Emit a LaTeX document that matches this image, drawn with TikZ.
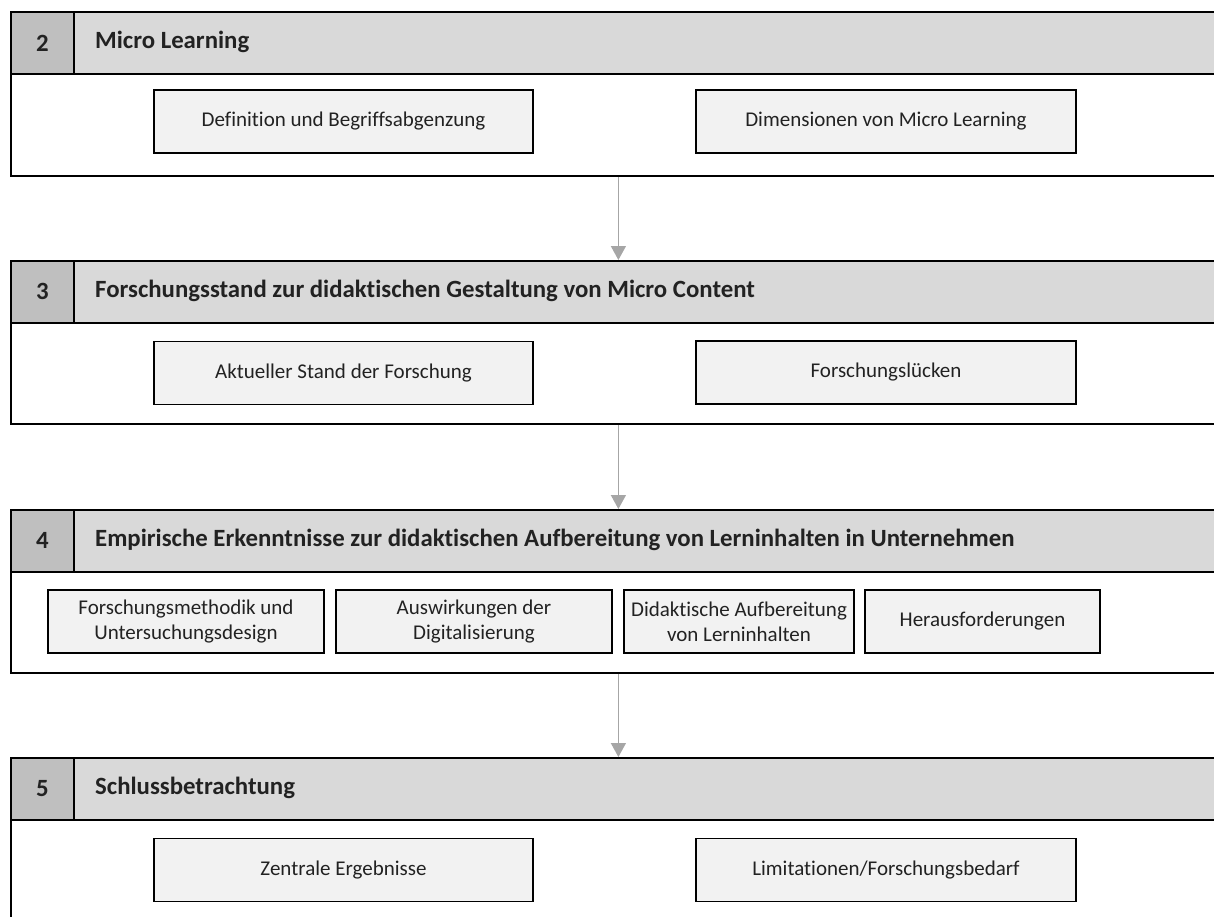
\documentclass[tikz,border=0pt]{standalone}
\usepackage{fontspec}
\setmainfont{Carlito}[Ligatures=NoCommon]
\usetikzlibrary{arrows.meta}
\definecolor{headfill}{HTML}{D9D9D9}
\definecolor{numfill}{HTML}{BFBFBF}
\definecolor{boxfill}{HTML}{F2F2F2}
\definecolor{arrowgray}{HTML}{A6A6A6}
\definecolor{textgray}{HTML}{222222}
\begin{document}
\begin{tikzpicture}[x=1pt,y=-1pt,
  sectbody/.style={draw=black, line width=1.8pt, fill=white, rectangle, anchor=north west,
    inner sep=0pt, minimum width=1215pt},
  headbar/.style={draw=black, line width=1.8pt, fill=headfill, rectangle, anchor=north west,
    inner sep=0pt, minimum width=1215pt, minimum height=62pt},
  numcell/.style={draw=black, line width=1.8pt, fill=numfill, rectangle, anchor=north west,
    inner sep=0pt, minimum width=63pt, minimum height=62pt, text=textgray,
    font=\bfseries\fontsize{24.8}{29}\selectfont},
  headtext/.style={anchor=west, inner sep=0pt, text=textgray,
    font=\bfseries\fontsize{24.8}{29}\selectfont},
  subbox/.style={draw=black, line width=1.6pt, fill=boxfill, rectangle, inner sep=0pt,
    minimum height=63pt, align=center, text=textgray,
    font=\fontsize{21}{25}\selectfont},
  flow/.style={draw=arrowgray, line width=1.4pt, -{Triangle[width=15pt,length=14pt]}}
]
\useasboundingbox (0,0) rectangle (1214,916);
\clip (0,0) rectangle (1214,916);

% Section 2
\node[sectbody, minimum height=102pt] (b2) at (10,73) {};
\node[headbar] (h2) at (10,11) {};
\node[numcell] (n2) at (10,11) {2};
\node[headtext] (t2) at (95,42) {Micro Learning};
\node[subbox, minimum width=379pt] (s21) at (343.5,121.5) {Definition und Begriffsabgenzung};
\node[subbox, minimum width=380pt] (s22) at (886,121.5) {Dimensionen von Micro Learning};

% Section 3
\node[sectbody, minimum height=101pt] (b3) at (10,322) {};
\node[headbar] (h3) at (10,260) {};
\node[numcell] (n3) at (10,260) {3};
\node[headtext] (t3) at (95,291) {Forschungsstand zur didaktischen Gestaltung von Micro Content};
\node[subbox, minimum width=379pt] (s31) at (343.5,373) {Aktueller Stand der Forschung};
\node[subbox, minimum width=380pt] (s32) at (886,372.5) {Forschungslücken};

% Section 4
\node[sectbody, minimum height=101pt] (b4) at (10,571) {};
\node[headbar] (h4) at (10,509) {};
\node[numcell] (n4) at (10,509) {4};
\node[headtext] (t4) at (95,540) {Empirische Erkenntnisse zur didaktischen Aufbereitung von Lerninhalten in Unternehmen};
\node[subbox, minimum width=276pt] (s41) at (186,621.5) {Forschungsmethodik und\\Untersuchungsdesign};
\node[subbox, minimum width=276pt] (s42) at (474,621.5) {Auswirkungen der\\Digitalisierung};
\node[subbox, minimum width=230pt] (s43) at (739,621.5) {Didaktische Aufbereitung\\von Lerninhalten};
\node[subbox, minimum width=235pt] (s44) at (982.5,621.5) {Herausforderungen};

% Section 5
\node[sectbody, minimum height=120pt] (b5) at (10,819) {};
\node[headbar] (h5) at (10,757) {};
\node[numcell] (n5) at (10,757) {5};
\node[headtext] (t5) at (95,788) {Schlussbetrachtung};
\node[subbox, minimum width=379pt] (s51) at (343.5,870) {Zentrale Ergebnisse};
\node[subbox, minimum width=380pt] (s52) at (886,870) {Limitationen/Forschungsbedarf};

% Connectors between sections
\draw[flow] (b2.south) -- (h3.north);
\draw[flow] (b3.south) -- (h4.north);
\draw[flow] (b4.south) -- (h5.north);
\end{tikzpicture}
\end{document}
